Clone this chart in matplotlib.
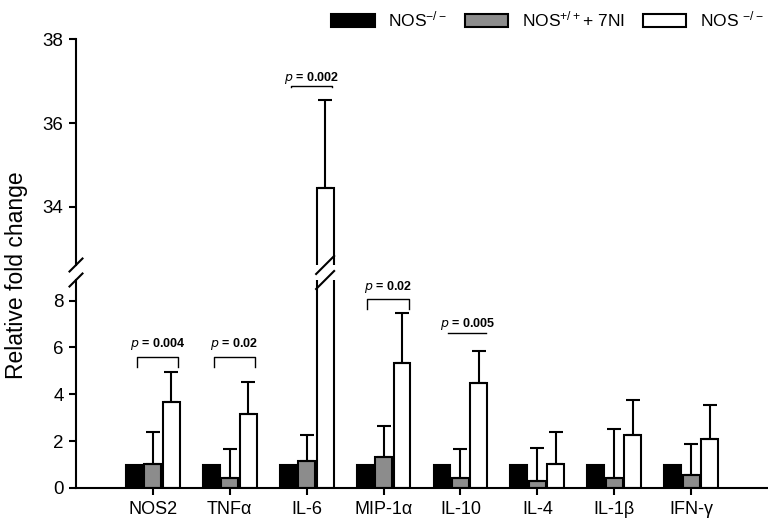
import matplotlib.pyplot as plt
import numpy as np
from matplotlib.patches import Patch

plt.rcParams['font.family'] = ['Liberation Sans', 'DejaVu Sans']
plt.rcParams['mathtext.default'] = 'regular'

# valores
genes = ['NOS2', 'TNFα', 'IL-6', 'MIP-1α', 'IL-10', 'IL-4', 'IL-1β', 'IFN-γ']
nos_ko = [1.0, 1.0, 1.0, 1.0, 1.0, 1.0, 1.0, 1.0]
nos_7ni = [1.02, 0.43, 1.15, 1.32, 0.43, 0.30, 0.43, 0.57]
nos_7ni_top = [2.40, 1.67, 2.26, 2.65, 1.66, 1.70, 2.52, 1.87]
nos_other = [3.66, 3.15, 34.46, 5.35, 4.47, 1.02, 2.27, 2.08]
nos_other_top = [4.95, 4.54, 36.55, 7.45, 5.86, 2.40, 3.74, 3.53]

# anotações de p: (índice, texto, altura do colchete)
p_notes = [(0, 'p = 0.004', 5.61), (1, 'p = 0.02', 5.61), (2, 'p = 0.002', 36.88),
           (3, 'p = 0.02', 8.08), (4, 'p = 0.005', 6.62)]

W, H = 768, 523
fig = plt.figure(figsize=(W / 100, H / 100), dpi=100)
L = 76 / W
ax_top = fig.add_axes([L, 1 - 265 / H, 1 - L, (265 - 39.3) / H])
ax_bot = fig.add_axes([L, 1 - 488 / H, 1 - L, (488 - 280) / H])

x = np.arange(len(genes))
off, bw = 0.24, 0.22
gray = '#8c8c8c'
lw = 1.5

for ax in (ax_top, ax_bot):
    ax.bar(x - off, nos_ko, bw, color='black', edgecolor='black', linewidth=lw)
    ax.bar(x, nos_7ni, bw, color=gray, edgecolor='black', linewidth=lw)
    ax.bar(x + off, nos_other, bw, color='white', edgecolor='black', linewidth=lw)
    e1 = np.array(nos_7ni_top) - np.array(nos_7ni)
    e2 = np.array(nos_other_top) - np.array(nos_other)
    ax.errorbar(x, nos_7ni, yerr=[np.zeros_like(e1), e1], fmt='none', ecolor='black',
                elinewidth=lw, capsize=5, capthick=lw)
    ax.errorbar(x + off, nos_other, yerr=[np.zeros_like(e2), e2], fmt='none', ecolor='black',
                elinewidth=lw, capsize=5, capthick=lw)
    ax.set_xlim(-1.0, 8.0)
    ax.spines['top'].set_visible(False)
    ax.spines['right'].set_visible(False)
    ax.spines['left'].set_linewidth(lw)
    ax.spines['bottom'].set_linewidth(lw)
    ax.tick_params(axis='y', direction='out', length=5, width=lw, labelsize=13.5, pad=4)

ax_top.set_ylim(32.61, 38)
ax_top.set_yticks([34, 36, 38])
ax_top.spines['bottom'].set_visible(False)
ax_top.set_xticks([])

ax_bot.set_ylim(0, 8.88)
ax_bot.set_yticks([0, 2, 4, 6, 8])
ax_bot.set_xticks(x)
ax_bot.set_xticklabels(genes, fontsize=13)
ax_bot.tick_params(axis='x', direction='out', length=5, width=lw, pad=4)

# colchetes de p
for i, txt, yb in p_notes:
    ax = ax_top if yb > 20 else ax_bot
    span = 0.9 if yb > 20 else 8.88
    leg = 0.028 * span * (1 if yb > 20 else 1.8)
    x0, x1 = i - 0.21, i + 0.33
    label = r'$\mathbf{\it{p}}$' + txt[1:]
    if i == 4:
        ax.plot([x0 + 0.05, x1], [yb, yb], color='black', lw=1)
        ax.text((x0 + x1) / 2 + 0.03, yb + 0.02, label, ha='center',
                va='bottom', fontsize=9, fontweight='bold')
        continue
    ax.plot([x0, x0, x1, x1], [yb - leg, yb, yb, yb - leg], color='black', lw=1)
    ax.text((x0 + x1) / 2, yb + leg * 0.4, label, ha='center',
            va='bottom', fontsize=9, fontweight='bold')

# marcas de quebra
fig.canvas.draw()
to_fig = fig.transFigure.inverted()


def slash(xp, yp, d=6.5):
    (fx0, fy0) = to_fig.transform((xp - d, yp - d))
    (fx1, fy1) = to_fig.transform((xp + d, yp + d))
    fig.add_artist(plt.Line2D([fx0, fx1], [fy0, fy1], color='black', lw=lw))


yb_top = ax_top.transAxes.transform((0, 0))[1]
yb_bot = ax_bot.transAxes.transform((0, 1))[1]
xa = ax_bot.transAxes.transform((0, 0))[0]
xbar = ax_bot.transData.transform((2 + off, 0))[0]
for yy in (yb_top, yb_bot):
    slash(xa, yy)
    slash(xbar, yy, d=9)

fig.text(0.022, 1 - 275 / H, 'Relative fold change', rotation=90, va='center', ha='center',
         fontsize=16.5)

handles = [Patch(facecolor='black', edgecolor='black', linewidth=lw),
           Patch(facecolor=gray, edgecolor='black', linewidth=lw),
           Patch(facecolor='white', edgecolor='black', linewidth=lw)]
labels = ['NOS$^{-/-}$', 'NOS$^{+/+}$+ 7NI', 'NOS $^{-/-}$']
fig.legend(handles, labels, loc='upper right', bbox_to_anchor=(1.015, 1.012), ncol=3,
           frameon=False, fontsize=12.5, handlelength=2.5, handleheight=0.75,
           handletextpad=0.8, columnspacing=1.0)

fig.savefig('out.png', dpi=100)
